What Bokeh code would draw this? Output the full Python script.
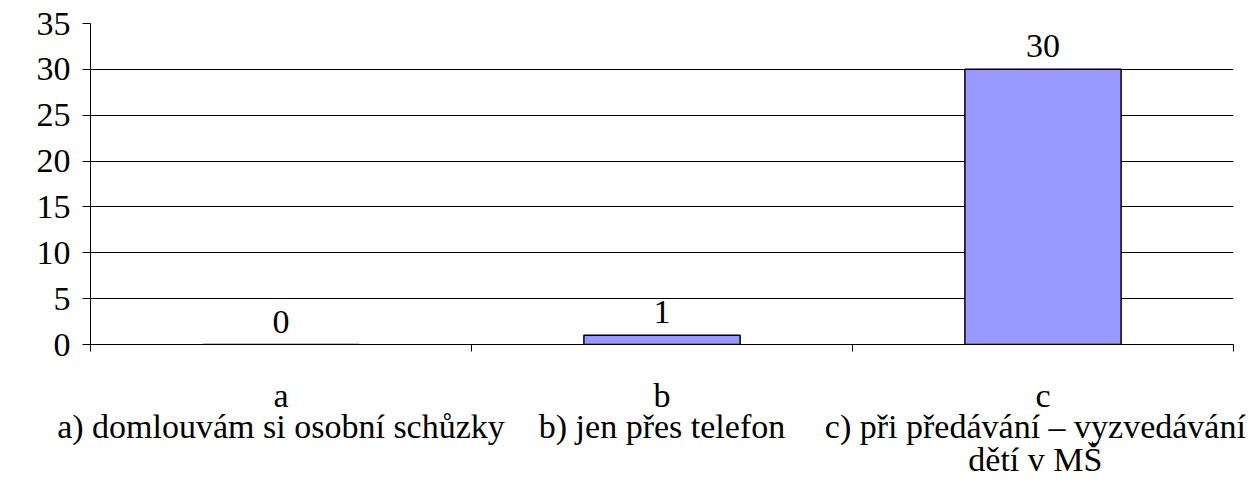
from bokeh.plotting import figure
from bokeh.models import FixedTicker, LabelSet, ColumnDataSource, LinearAxis
from bokeh.embed import file_html
from bokeh.resources import INLINE

categories = ["a", "b", "c"]
values = [0, 1, 30]
descriptions = [
    "a) domlouvám si osobní schůzky",
    "b) jen přes telefon",
    "c) při předávání – vyzvedávání\ndětí v MŠ",
]
y_ticks = [0, 5, 10, 15, 20, 25, 30, 35]

FONT = "Liberation Serif"
FS = "34px"

xs = [i + 0.5 for i in range(len(categories))]
src = ColumnDataSource(dict(x=xs, top=values, lbl=[str(v) for v in values]))

p = figure(width=1256, height=480, x_range=(0, len(categories)), y_range=(0, 35),
           output_backend="svg", toolbar_location=None,
           min_border_left=90, min_border_right=23, min_border_top=23, min_border_bottom=20)
p.outline_line_color = None
p.background_fill_color = "white"
p.border_fill_color = "white"
p.xgrid.grid_line_color = None
p.ygrid.grid_line_color = "black"
p.ygrid.grid_line_width = 1
p.ygrid.ticker = FixedTicker(ticks=y_ticks)

p.vbar(x="x", top="top", width=0.41, bottom=0, source=src,
       fill_color="#9999ff", line_color="black", line_width=1.5)

p.add_layout(LabelSet(x="x", y="top", text="lbl", source=src, y_offset=12,
                      text_align="center", text_baseline="alphabetic",
                      text_font=FONT, text_font_size=FS, text_color="black"))

xa = p.xaxis[0]
xa.ticker = FixedTicker(ticks=xs, minor_ticks=list(range(len(categories) + 1)))
xa.major_label_overrides = {x: c for x, c in zip(xs, categories)}
xa.major_tick_out = 0
xa.major_tick_in = 0
xa.minor_tick_out = 7
xa.minor_tick_in = 0
xa.minor_tick_line_color = "black"
xa.axis_line_color = "black"
xa.major_label_text_font = FONT
xa.major_label_text_font_size = FS
xa.major_label_text_color = "black"
xa.major_label_standoff = 25

# second row of category labels (descriptions)
desc_x = [xs[0], xs[1], xs[2] - 0.02]
xa2 = LinearAxis(ticker=FixedTicker(ticks=desc_x, minor_ticks=[]),
                 major_label_overrides={x: d for x, d in zip(desc_x, descriptions)},
                 axis_line_color=None, major_tick_line_color=None, minor_tick_line_color=None,
                 major_tick_out=0, major_tick_in=0, minor_tick_out=0, minor_tick_in=0,
                 major_label_standoff=-9, major_label_text_font=FONT,
                 major_label_text_font_size=FS, major_label_text_color="black",
                 major_label_text_line_height=0.9)
p.add_layout(xa2, "below")

ya = p.yaxis[0]
ya.ticker = FixedTicker(ticks=y_ticks)
ya.major_tick_out = 8
ya.major_tick_in = 0
ya.minor_tick_out = 0
ya.minor_tick_in = 0
ya.axis_line_color = "black"
ya.major_tick_line_color = "black"
ya.major_label_text_font = FONT
ya.major_label_text_font_size = FS
ya.major_label_text_color = "black"
ya.major_label_standoff = 12

open("out.html", "w").write(file_html(p, INLINE))
